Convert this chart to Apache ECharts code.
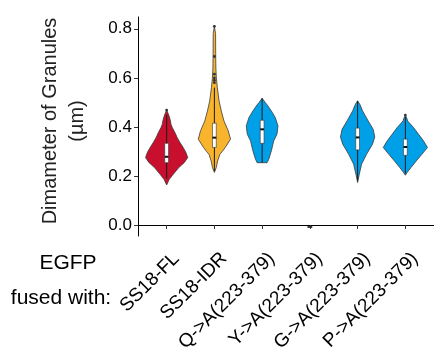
<!DOCTYPE html>
<html><head><meta charset="utf-8">
<script src="https://cdn.jsdelivr.net/npm/echarts@6/dist/echarts.min.js"></script>
<style>html,body{margin:0;padding:0;background:#fff}#c{width:434px;height:354px}</style>
</head><body><div id="c"></div>
<script>
// ---- data ----
var categories = ['SS18-FL', 'SS18-IDR', 'Q->A(223-379)', 'Y->A(223-379)', 'G->A(223-379)', 'P->A(223-379)'];
var yTicks = [0.0, 0.2, 0.4, 0.6, 0.8];
// violin outlines: value levels and half-widths (in category units)
var levelsFL  = [0.163, 0.185, 0.207, 0.234, 0.255, 0.275, 0.295, 0.316, 0.336, 0.356, 0.380, 0.397, 0.410, 0.430, 0.450, 0.468];
var widthsFL  = [0.000, 0.052, 0.139, 0.255, 0.373, 0.442, 0.405, 0.346, 0.280, 0.222, 0.166, 0.118, 0.093, 0.073, 0.041, 0.000];
var levelsIDR = [0.214, 0.235, 0.261, 0.288, 0.300, 0.316, 0.350, 0.384, 0.424, 0.465, 0.506, 0.560, 0.600, 0.640, 0.700, 0.780, 0.810];
var widthsIDR = [0.000, 0.041, 0.068, 0.114, 0.166, 0.228, 0.338, 0.290, 0.201, 0.145, 0.098, 0.062, 0.041, 0.031, 0.027, 0.025, 0.000];
var levelsQA  = [0.2539, 0.254, 0.268, 0.302, 0.343, 0.370, 0.404, 0.438, 0.465, 0.490, 0.500, 0.517];
var widthsQA  = [0.000, 0.104, 0.139, 0.193, 0.243, 0.311, 0.332, 0.276, 0.193, 0.104, 0.062, 0.000];
var levelsYA  = [];
var widthsYA  = [];
var levelsGA  = [0.173, 0.207, 0.248, 0.288, 0.329, 0.359, 0.390, 0.424, 0.465, 0.490, 0.506];
var widthsGA  = [0.000, 0.035, 0.083, 0.187, 0.311, 0.359, 0.326, 0.222, 0.104, 0.052, 0.000];
var levelsPA  = [0.203, 0.215, 0.234, 0.261, 0.288, 0.316, 0.343, 0.370, 0.397, 0.424, 0.435, 0.448];
var widthsPA  = [0.000, 0.041, 0.118, 0.228, 0.346, 0.463, 0.380, 0.276, 0.172, 0.048, 0.031, 0.000];
// box stats: [whiskerLow, q1, median, q3, whiskerHigh]
var boxFL  = [0.190, 0.254, 0.278, 0.333, 0.450];
var boxIDR = [0.220, 0.316, 0.356, 0.415, 0.560];
var boxQA  = [0.254, 0.333, 0.390, 0.427, 0.517];
var boxYA  = [-0.008, -0.008, -0.008, -0.008, -0.008];
var boxGA  = [0.180, 0.306, 0.357, 0.395, 0.506];
var boxPA  = [0.210, 0.284, 0.318, 0.350, 0.440];
var outliersFL  = [0.468];
var outliersIDR = [0.810, 0.687, 0.615, 0.600, 0.590, 0.580];
var outliersQA  = [];
var outliersYA  = [];
var outliersGA  = [];
var outliersPA  = [0.448];
var fillColors = ['#C8102E', '#F9B42D', '#00A0E9', '#00A0E9', '#00A0E9', '#00A0E9'];

var levels = [levelsFL, levelsIDR, levelsQA, levelsYA, levelsGA, levelsPA];
var widths = [widthsFL, widthsIDR, widthsQA, widthsYA, widthsGA, widthsPA];
var boxes = [boxFL, boxIDR, boxQA, boxYA, boxGA, boxPA];
var outliers = [outliersFL, outliersIDR, outliersQA, outliersYA, outliersGA, outliersPA];

var chart = echarts.init(document.getElementById('c'), null, {renderer: 'canvas'});
var boxHalf = 0.04;
var yMin = -0.045, yMax = 0.848;
var font = 'Liberation Sans, Arial, sans-serif';

function renderItem(params, api) {
  var i = api.value(0);
  var x = i + 1;
  var lv = levels[i], wd = widths[i], bx = boxes[i];
  var children = [];
  if (lv.length) {
    var pts = [];
    for (var k = 0; k < lv.length; k++) pts.push(api.coord([x + wd[k], lv[k]]));
    for (var k = lv.length - 1; k >= 0; k--) pts.push(api.coord([x - wd[k], lv[k]]));
    children.push({type: 'polygon', shape: {points: pts},
      style: {fill: fillColors[i], stroke: '#3a3a3a', lineWidth: 0.8}});
    var wl = api.coord([x, bx[0]]), wh = api.coord([x, bx[4]]);
    children.push({type: 'line', shape: {x1: wl[0], y1: wl[1], x2: wh[0], y2: wh[1]},
      style: {stroke: '#1a1a1a', lineWidth: 1}});
    var p1 = api.coord([x - boxHalf, bx[3]]), p2 = api.coord([x + boxHalf, bx[1]]);
    children.push({type: 'rect', shape: {x: p1[0], y: p1[1], width: p2[0] - p1[0], height: p2[1] - p1[1]},
      style: {fill: '#ffffff', stroke: '#333333', lineWidth: 0.6}});
    var m1 = api.coord([x - boxHalf, bx[2]]), m2 = api.coord([x + boxHalf, bx[2]]);
    children.push({type: 'line', shape: {x1: m1[0], y1: m1[1], x2: m2[0], y2: m2[1]},
      style: {stroke: '#111', lineWidth: 2}});
  } else {
    var m1 = api.coord([x - 0.05, bx[2]]), m2 = api.coord([x + 0.05, bx[2]]);
    children.push({type: 'line', shape: {x1: m1[0], y1: m1[1], x2: m2[0], y2: m2[1]},
      style: {stroke: '#333', lineWidth: 2}});
  }
  var ol = outliers[i];
  for (var k = 0; k < ol.length; k++) {
    var c = api.coord([x, ol[k]]);
    children.push({type: 'circle', shape: {cx: c[0], cy: c[1], r: 1.4}, style: {fill: '#333'}});
  }
  // category label (rotated 45°, anchored at its top-right corner)
  var base = api.coord([x, yMin]);
  children.push({type: 'text', x: base[0] + 3, y: base[1] + 13, rotation: Math.PI / 4,
    style: {text: categories[i], fontSize: 19, fontFamily: font, fill: '#000', align: 'right', verticalAlign: 'top'}});
  return {type: 'group', children: children};
}

chart.setOption({
  animation: false,
  grid: {left: 138, top: 17, width: 299, height: 219, containLabel: false},
  xAxis: {
    type: 'value', min: 0.4, max: 6.6,
    axisLine: {show: true, lineStyle: {color: '#000', width: 1}},
    splitLine: {show: false},
    axisTick: {show: true, length: 4, lineStyle: {color: '#333'}, customValues: [1, 2, 3, 4, 5, 6]},
    axisLabel: {show: false}
  },
  yAxis: {
    type: 'value', min: yMin, max: yMax,
    axisLine: {show: true, lineStyle: {color: '#000', width: 1}},
    splitLine: {show: false},
    axisTick: {show: true, length: 4, lineStyle: {color: '#333'}, customValues: yTicks},
    axisLabel: {customValues: yTicks, margin: 6, color: '#000', fontSize: 17, fontFamily: font,
      formatter: function (v) { return v.toFixed(1); }}
  },
  graphic: [
    {type: 'text', x: 50, y: 121, rotation: Math.PI / 2,
      style: {text: 'Dimameter of Granules', fontSize: 20, fontFamily: font, fill: '#222', align: 'center', verticalAlign: 'middle'}},
    {type: 'text', x: 77, y: 121, rotation: Math.PI / 2,
      style: {text: '(µm)', fontSize: 20, fontFamily: font, fill: '#222', align: 'center', verticalAlign: 'middle'}},
    {type: 'text', x: 68, y: 263,
      style: {text: 'EGFP', fontSize: 21, fontFamily: font, fill: '#000', align: 'center', verticalAlign: 'middle'}},
    {type: 'text', x: 61, y: 298,
      style: {text: 'fused with:', fontSize: 21, fontFamily: font, fill: '#000', align: 'center', verticalAlign: 'middle'}}
  ],
  series: [{
    type: 'custom', renderItem: renderItem, clip: false,
    data: categories.map(function (c, i) { return [i]; }),
    encode: {x: -1, y: -1}
  }]
});
</script></body></html>
